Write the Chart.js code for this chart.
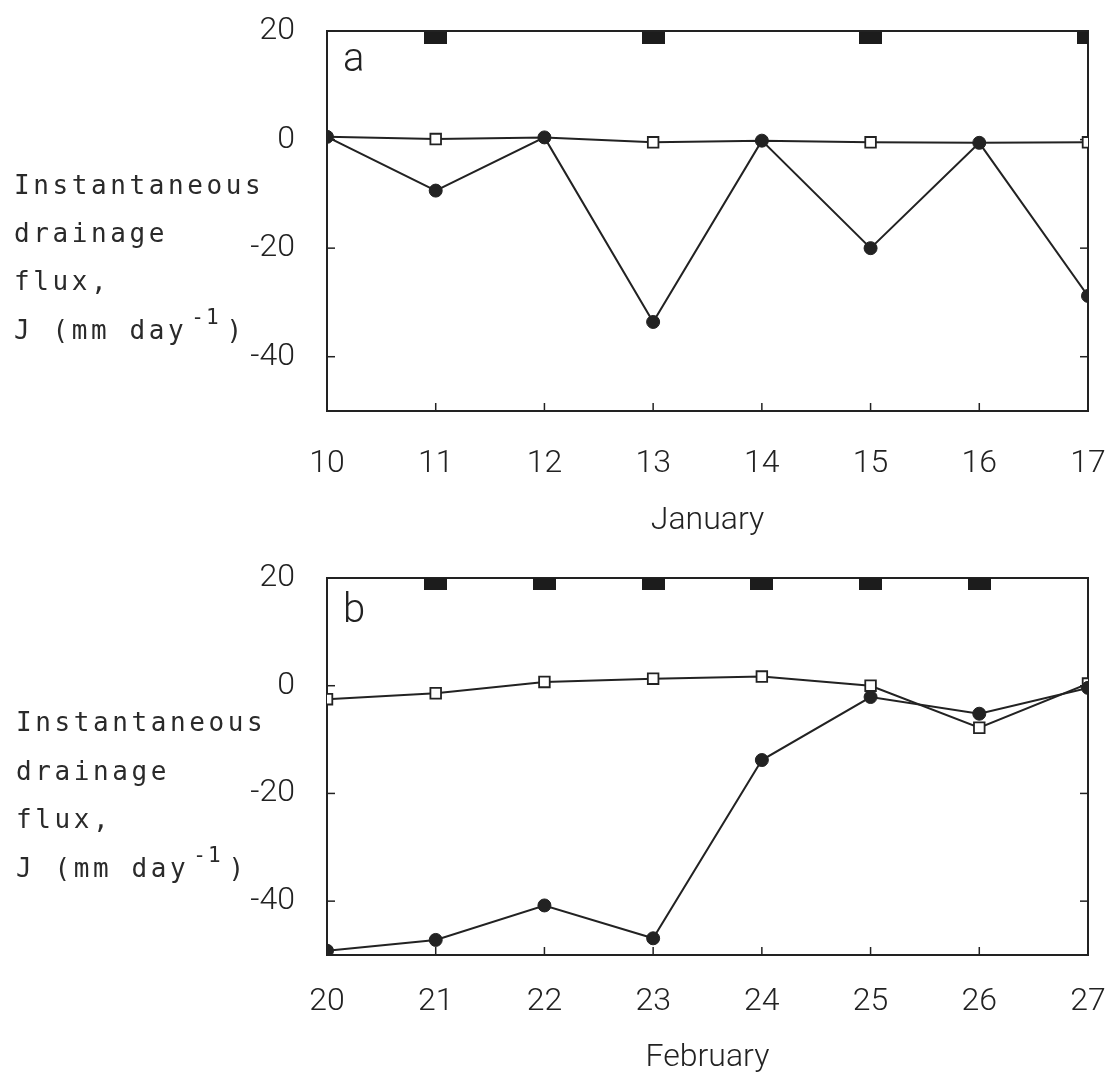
<!DOCTYPE html>
<html><head><meta charset="utf-8">
<script src="https://cdn.jsdelivr.net/npm/chart.js@4/dist/chart.umd.min.js"></script>
<style>
html,body{margin:0;padding:0;background:#fff;}
#wrap{position:relative;width:1105px;height:1077px;background:#fff;}
canvas{position:absolute;left:0;}
#ca{top:0;} #cb{top:540px;}
</style></head><body>
<div id="wrap"><canvas id="ca" width="1105" height="540"></canvas><canvas id="cb" width="1105" height="537"></canvas></div>
<script>
// ---- data ----
const daysJan = ['10','11','12','13','14','15','16','17'];
const janCircles = [0.5, -9.4, 0.4, -33.6, -0.2, -20.0, -0.6, -28.8];
const janSquares = [0.5, 0.1, 0.4, -0.5, -0.2, -0.5, -0.6, -0.5];
const janMarks   = [null, 18.8, null, 18.8, null, 18.8, null, 18.8];

const daysFeb = ['20','21','22','23','24','25','26','27'];
const febCircles = [-49.2, -47.2, -40.8, -46.9, -13.8, -2.1, -5.2, -0.4];
const febSquares = [-2.5, -1.4, 0.7, 1.3, 1.7, 0.0, -7.8, 0.4];
const febMarks   = [null, 18.9, 18.9, 18.9, 18.9, 18.9, 18.9, null];

const yTickValues = [20, 0, -20, -40];
const yMin = -50, yMax = 20;
const yLabelLines = ['Instantaneous', 'drainage', 'flux,', 'J (mm day'];
const yLabelSup = '-1';
const yLabelEnd = ')';

// ---- style ----
const INK = '#222';
const tickFont = {family: 'Roboto', size: 32, weight: '300', lineHeight: 1.2};

const markImg = document.createElement('canvas');
markImg.width = 23; markImg.height = 12;
(function(){ const m = markImg.getContext('2d'); m.fillStyle = '#1c1c1c'; m.fillRect(0,0,23,12); })();

const framePlugin = {
  id: 'frame',
  beforeDatasetsDraw(chart, args, o) {
    const {ctx, chartArea: a, scales: {x, y}} = chart;
    ctx.save();
    ctx.strokeStyle = INK;
    ctx.lineWidth = 2;
    ctx.strokeRect(a.left, a.top, a.right - a.left, a.bottom - a.top);
    ctx.lineWidth = 1.5;
    x.ticks.forEach((t, i) => {
      const px = x.getPixelForTick(i);
      ctx.beginPath(); ctx.moveTo(px, a.bottom); ctx.lineTo(px, a.bottom - 8); ctx.stroke();
    });
    y.ticks.forEach((t, i) => {
      const py = y.getPixelForTick(i);
      ctx.beginPath(); ctx.moveTo(a.left, py); ctx.lineTo(a.left + 8, py); ctx.stroke();
      ctx.beginPath(); ctx.moveTo(a.right, py); ctx.lineTo(a.right - 8, py); ctx.stroke();
    });
    ctx.restore();
  },
  afterDraw(chart, args, o) {
    const {ctx, chartArea: a} = chart;
    ctx.save();
    ctx.fillStyle = INK;
    // panel letter
    ctx.font = '300 40px Roboto';
    ctx.textBaseline = 'alphabetic';
    ctx.fillText(o.letter, a.left + 16, a.top + o.letterDy);
    // y label
    ctx.fillStyle = '#2a2a2a';
    ctx.font = '26px "DejaVu Sans Mono"';
    ctx.letterSpacing = '3.6px';
    yLabelLines.forEach((s, i) => {
      ctx.fillText(s, o.labelX, o.baselines[i]);
    });
    const last = yLabelLines.length - 1;
    const w = ctx.measureText(yLabelLines[last]).width;
    ctx.font = '21px "DejaVu Sans Mono"';
    ctx.letterSpacing = '2px';
    ctx.fillText(yLabelSup, o.labelX + w + 4, o.baselines[last] - 15);
    const w2 = ctx.measureText(yLabelSup).width;
    ctx.font = '26px "DejaVu Sans Mono"';
    ctx.fillText(yLabelEnd, o.labelX + w + w2 + 10, o.baselines[last]);
    ctx.restore();
  }
};

function makeChart(id, labels, circles, squares, marks, cfg) {
  return new Chart(document.getElementById(id), {
    type: 'line',
    data: {
      labels: labels,
      datasets: [
        {
          data: circles,
          borderColor: INK, borderWidth: 2,
          pointStyle: 'circle', pointRadius: 6.5,
          pointBackgroundColor: INK, pointBorderColor: INK, pointBorderWidth: 1,
          clip: 0
        },
        {
          data: squares,
          borderColor: INK, borderWidth: 2,
          pointStyle: 'rect',
          pointRadius: (c) => Math.abs(squares[c.dataIndex] - circles[c.dataIndex]) < 0.3 ? 0 : 7.5,
          pointBackgroundColor: '#fff', pointBorderColor: INK, pointBorderWidth: 1.8,
          clip: 0
        },
        {
          data: marks,
          showLine: false,
          pointStyle: markImg, pointRadius: 6,
          clip: 0
        }
      ]
    },
    options: {
      responsive: false,
      animation: false,
      devicePixelRatio: 1,
      layout: {padding: {top: cfg.top, right: 17, left: 0, bottom: 0}},
      plugins: {
        legend: {display: false},
        tooltip: {enabled: false},
        frame: cfg.frame
      },
      scales: {
        x: {
          offset: false,
          grid: {display: false, drawTicks: false},
          border: {display: false},
          ticks: {color: INK, font: tickFont, padding: cfg.xPad, maxRotation: 0, autoSkip: false},
          title: {display: true, text: cfg.month, color: INK, font: {family: 'Roboto', size: 32, weight: '300', lineHeight: 1.2}, padding: {top: 0, bottom: cfg.titleBottom}},
          afterFit(s) { s.height = cfg.xHeight; s.paddingLeft = 0; s.paddingRight = 0; }
        },
        y: {
          min: yMin, max: yMax,
          grid: {display: false, drawTicks: false},
          border: {display: false},
          ticks: {color: INK, font: tickFont, padding: 32},
          afterBuildTicks(s) { s.ticks = yTickValues.map(v => ({value: v})); },
          afterFit(s) { s.width = 327; s.paddingTop = 0; s.paddingBottom = 0; }
        }
      }
    },
    plugins: [framePlugin]
  });
}

makeChart('ca', daysJan, janCircles, janSquares, janMarks, {
  top: 31, xHeight: 129, xPad: 34, titleBottom: 0, month: 'January',
  frame: {letter: 'a', letterDy: 40, labelX: 14, baselines: [194, 242, 290, 339]}
});
makeChart('cb', daysFeb, febCircles, febSquares, febMarks, {
  top: 38, xHeight: 122, xPad: 28, titleBottom: 0, month: 'February',
  frame: {letter: 'b', letterDy: 44, labelX: 16, baselines: [191, 240, 288, 337]}
});
</script>
</body></html>
